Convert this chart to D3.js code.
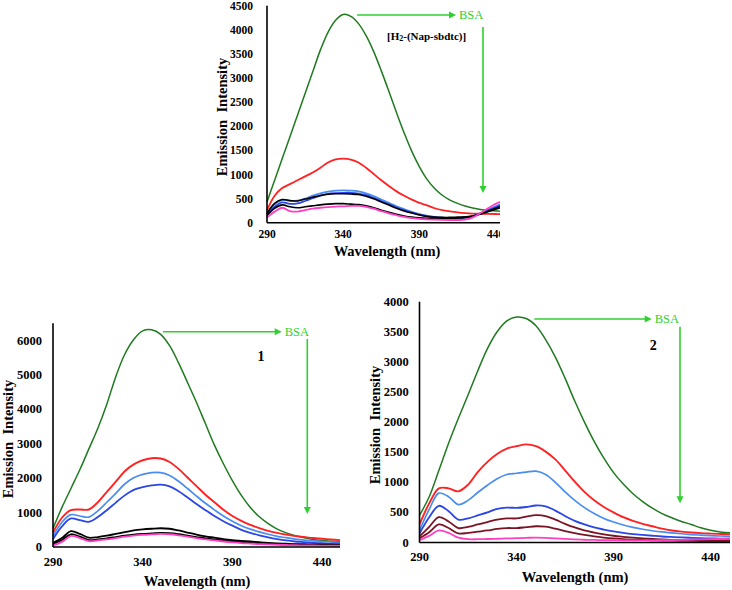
<!DOCTYPE html>
<html><head><meta charset="utf-8">
<script src="https://cdn.jsdelivr.net/npm/d3@7"></script>
<style>body{margin:0;background:#fff}svg{display:block}text{font-family:"Liberation Serif","Times New Roman",serif}</style>
</head><body><svg id="c" width="732" height="590"></svg>
<script>
const wavelengths = d3.range(290, 451, 5);

// Panel A: [H2-(Nap-sbdtc)]
const A_green = [430,880,1330,1780,2230,2680,3130,3580,3950,4200,4320,4280,4130,3880,3550,3150,2720,2280,1860,1480,1160,900,710,570,470,400,345,305,275,255,245,235,230];
const A_red = [260,560,720,800,880,960,1040,1140,1250,1315,1330,1310,1250,1140,1010,880,760,650,560,480,410,360,300,260,235,215,200,190,185,182,180,180,180];
const A_lightblue = [200,380,470,450,460,500,560,610,645,665,670,665,650,610,550,480,410,340,280,225,180,145,120,105,100,100,110,140,200,270,340,400,420];
const A_blue = [180,330,420,390,400,450,510,560,600,615,620,620,605,570,510,445,380,315,260,210,170,135,112,100,95,95,105,135,190,255,320,380,400];
const A_black1 = [190,400,480,460,450,490,530,565,590,600,600,595,585,550,495,430,365,300,245,200,160,130,115,110,110,115,120,140,180,230,280,320,340];
const A_black2 = [150,300,370,330,310,330,350,370,385,395,395,385,375,350,310,260,215,175,140,115,100,92,88,88,90,95,105,130,180,240,300,350,370];
const A_magenta = [110,230,310,240,230,260,290,310,325,335,340,350,350,330,290,240,195,155,120,95,80,70,62,58,56,56,62,110,200,300,390,450,470];

// Panel B: complex 1
const B_green = [540,1150,1700,2250,2850,3450,4150,4950,5600,6030,6280,6310,6180,5850,5350,4780,4200,3580,2960,2420,1930,1500,1150,880,680,520,410,330,270,220,190,170,155];
const B_red = [420,850,1070,1090,1090,1300,1600,1900,2200,2400,2520,2580,2570,2470,2270,2020,1770,1520,1300,1080,900,760,640,550,470,410,360,320,290,260,240,220,200];
const B_lightblue = [320,720,940,900,870,1050,1300,1560,1830,2010,2110,2160,2160,2080,1910,1700,1480,1270,1080,900,750,620,520,440,370,310,270,230,200,180,160,145,130];
const B_blue = [230,600,830,780,730,870,1070,1290,1500,1660,1740,1790,1810,1760,1620,1440,1250,1070,900,750,620,500,410,340,280,230,190,160,140,120,110,100,95];
const B_black1 = [120,260,460,380,270,290,330,380,430,480,510,530,545,530,480,420,360,310,270,230,200,180,160,140,120,105,95,85,80,75,70,65,60];
const B_black2 = [80,200,370,300,200,220,250,290,330,360,380,395,410,400,370,330,290,250,220,190,165,145,125,110,95,85,75,68,62,58,55,52,50];
const B_magenta = [50,150,320,260,170,190,220,260,300,330,350,365,380,370,340,300,260,220,190,160,135,115,100,85,75,65,58,52,48,45,42,40,38];

// Panel C: complex 2
const C_green = [450,760,1200,1650,2060,2450,2850,3220,3500,3680,3745,3720,3600,3370,3080,2730,2350,2000,1680,1400,1160,970,810,680,570,480,410,350,300,245,205,175,160];
const C_red = [300,650,900,900,850,960,1170,1340,1470,1560,1600,1630,1600,1510,1380,1200,1010,840,700,590,500,420,360,310,270,230,200,180,165,155,148,142,138];
const C_lightblue = [200,550,820,760,630,700,830,950,1060,1130,1150,1170,1185,1130,1000,840,700,580,480,400,340,290,250,220,195,175,160,145,132,122,115,108,103];
const C_blue = [150,420,610,520,380,400,450,500,560,580,575,590,615,600,530,440,360,300,250,215,185,160,140,125,112,100,92,85,78,72,68,65,62];
const C_maroon1 = [100,260,420,350,240,260,300,340,380,400,400,430,455,440,380,310,250,200,165,135,112,95,80,68,58,50,45,40,37,34,32,30,28];
const C_maroon2 = [70,170,300,240,150,160,180,200,225,240,240,255,270,262,230,190,155,125,100,82,68,57,48,42,37,33,30,28,26,25,24,23,22];
const C_magenta = [40,110,200,160,80,55,55,58,62,68,72,78,82,78,70,60,52,46,42,40,38,36,35,35,36,38,40,44,48,52,56,60,64];

const A_yTicks = d3.range(0, 4501, 500);
const B_yTicks = d3.range(0, 6001, 1000);
const C_yTicks = d3.range(0, 4001, 500);
const xTicks = [290, 340, 390, 440];

const COL = {green:"#1f7a1f", red:"#ff2222", lightblue:"#4a8df2", blue:"#2b46e6", black:"#000000", magenta:"#ff3fc3", maroon:"#7a1424", arrow:"#2ed12e"};

const svg = d3.select("#c");
svg.append("defs").append("clipPath").attr("id","clipA").append("rect").attr("x",0).attr("y",0).attr("width",500).attr("height",290);

function panel(o){
  const g = svg.append("g");
  if (o.clip) g.attr("clip-path","url(#"+o.clip+")");
  const x = d3.scaleLinear().domain(o.xd).range(o.xr);
  const y = d3.scaleLinear().domain(o.yd).range(o.yr);
  const inner = g.append("g");
  const line = d3.line().x((d,i)=>x(wavelengths[i])).y(d=>y(d)).curve(d3.curveCatmullRom.alpha(0.5));
  o.series.forEach(s=>{
    inner.append("path").attr("d", line(s.v)).attr("fill","none").attr("stroke",s.c).attr("stroke-width",s.w||1.6).attr("stroke-linejoin","round");
  });
  g.append("line").attr("x1",o.xr[0]).attr("x2",o.xr[0]).attr("y1",o.yr[1]).attr("y2",o.yr[0]).attr("stroke","#000").attr("stroke-width",1.6);
  g.append("line").attr("x1",o.xr[0]).attr("x2",o.xr[1]).attr("y1",o.yr[0]).attr("y2",o.yr[0]).attr("stroke","#000").attr("stroke-width",1.6);
  o.yTicks.forEach(t=>{
    g.append("text").attr("x",o.xr[0]-o.ygap).attr("y",y(t)).attr("text-anchor","end").attr("dominant-baseline","central")
      .attr("font-size",o.fs).attr("font-weight","bold").text(t);
  });
  xTicks.forEach(t=>{
    g.append("text").attr("x",x(t)).attr("y",o.yr[0]+o.xgap).attr("text-anchor","middle").attr("dominant-baseline","central")
      .attr("font-size",o.fs).attr("font-weight","bold").text(t);
  });
  g.append("text").attr("transform","translate("+o.yt[0]+","+o.yt[1]+") rotate(-90)").attr("text-anchor","middle").attr("dominant-baseline","central")
    .attr("font-size",14.5).attr("font-weight","bold").style("white-space","pre").text("Emission  Intensity");
  g.append("text").attr("x",o.xt[0]).attr("y",o.xt[1]).attr("text-anchor","middle").attr("dominant-baseline","central")
    .attr("font-size",14.5).attr("font-weight","bold").text("Wavelength (nm)");
  const a = o.arrow;
  g.append("line").attr("x1",a.hx0).attr("x2",a.hx1-6).attr("y1",a.hy).attr("y2",a.hy).attr("stroke",COL.arrow).attr("stroke-width",1.6);
  g.append("path").attr("d",`M${a.hx1},${a.hy} L${a.hx1-7},${a.hy-3.5} L${a.hx1-7},${a.hy+3.5} Z`).attr("fill",COL.arrow);
  g.append("text").attr("x",a.hx1+3).attr("y",a.hy).attr("dominant-baseline","central").attr("font-size",12.5).attr("fill",COL.arrow).text("BSA");
  g.append("line").attr("x1",a.vx).attr("x2",a.vx).attr("y1",a.vy0).attr("y2",a.vy1-6).attr("stroke",COL.arrow).attr("stroke-width",1.6);
  g.append("path").attr("d",`M${a.vx},${a.vy1} L${a.vx-3.5},${a.vy1-7} L${a.vx+3.5},${a.vy1-7} Z`).attr("fill",COL.arrow);
  return g;
}

const gA = panel({
  clip:"clipA", xd:[290,443.5], xr:[267,501], yd:[0,4500], yr:[222.7,5.8], yTicks:A_yTicks, fs:11.5, ygap:14, xgap:11.5,
  yt:[221.5,117], xt:[387,251],
  series:[
    {v:A_green,c:COL.green,w:1.5},{v:A_red,c:COL.red,w:1.8},{v:A_lightblue,c:COL.lightblue,w:1.8},{v:A_blue,c:COL.blue,w:1.8},
    {v:A_black1,c:COL.black,w:1.6},{v:A_black2,c:COL.black,w:1.6},{v:A_magenta,c:COL.magenta,w:1.8}
  ],
  arrow:{hx0:357,hx1:456,hy:15,vx:483,vy0:27,vy1:193}
});
const lbl = gA.append("text").attr("x",387).attr("y",36).attr("dominant-baseline","central").attr("font-size",11).attr("font-weight","bold");
lbl.append("tspan").text("[H");
lbl.append("tspan").attr("font-size",8).attr("dy",2).text("2");
lbl.append("tspan").attr("dy",-2).text("-(Nap-sbdtc)]");

const gB = panel({
  xd:[290,450], xr:[53,340], yd:[0,6500], yr:[547,323.3], yTicks:B_yTicks, fs:12.5, ygap:11, xgap:14.7,
  yt:[8,439], xt:[197,581],
  series:[
    {v:B_green,c:COL.green,w:1.5},{v:B_red,c:COL.red,w:1.9},{v:B_lightblue,c:COL.lightblue,w:1.7},{v:B_blue,c:COL.blue,w:1.8},
    {v:B_black1,c:COL.black,w:1.8},{v:B_black2,c:COL.black,w:1.8},{v:B_magenta,c:COL.magenta,w:1.8}
  ],
  arrow:{hx0:163,hx1:281.7,hy:331.7,vx:307.3,vy0:339,vy1:514}
});
gB.append("text").attr("x",261).attr("y",356.7).attr("text-anchor","middle").attr("dominant-baseline","central").attr("font-size",14).attr("font-weight","bold").text("1");

const gC = panel({
  xd:[290,450], xr:[419.5,730], yd:[0,4000], yr:[542.5,301.7], yTicks:C_yTicks, fs:12.5, ygap:10.7, xgap:14.2,
  yt:[375,425], xt:[575,576.5],
  series:[
    {v:C_green,c:COL.green,w:1.5},{v:C_red,c:COL.red,w:1.9},{v:C_lightblue,c:COL.lightblue,w:1.7},{v:C_blue,c:COL.blue,w:1.8},
    {v:C_maroon1,c:COL.maroon,w:1.8},{v:C_maroon2,c:COL.maroon,w:1.8},{v:C_magenta,c:COL.magenta,w:1.8}
  ],
  arrow:{hx0:534.3,hx1:651.7,hy:319,vx:680,vy0:326.7,vy1:503.3}
});
gC.append("text").attr("x",653.3).attr("y",345).attr("text-anchor","middle").attr("dominant-baseline","central").attr("font-size",14).attr("font-weight","bold").text("2");
</script></body></html>
